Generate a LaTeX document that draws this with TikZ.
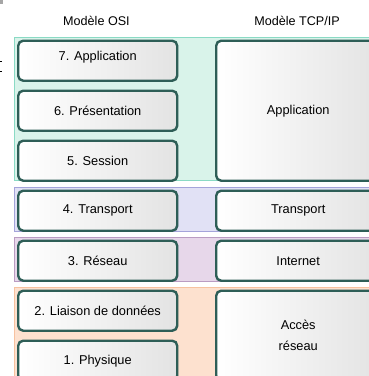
\documentclass[tikz,border=0pt]{standalone}
\usepackage{fontspec}
\setmainfont{Liberation Sans}
\usetikzlibrary{shadows}
\definecolor{boxborder}{HTML}{2E5E57}
\definecolor{bandA}{HTML}{D9F3EA}
\definecolor{bandAb}{HTML}{8ADAC4}
\definecolor{bandT}{HTML}{E1E1F5}
\definecolor{bandTb}{HTML}{A4A4DA}
\definecolor{bandR}{HTML}{E7D7EA}
\definecolor{bandRb}{HTML}{BA9CC2}
\definecolor{bandN}{HTML}{FDE1CF}
\definecolor{bandNb}{HTML}{F7C2A0}
\tikzset{
  layer/.style={draw=boxborder, line width=2.4pt, rounded corners=5pt,
    left color=white, right color=black!11, anchor=north west,
    inner sep=0pt,
    drop shadow={shadow xshift=1pt, shadow yshift=-1pt, opacity=0.35, fill=black!60}},
  band/.style={line width=0.8pt},
  lbl/.style={font=\fontsize{12.8}{15}\selectfont, inner sep=0pt},
  title/.style={font=\fontsize{12.6}{15}\selectfont, inner sep=0pt}
}
\begin{document}
\begin{tikzpicture}[x=1pt, y=-1pt]
\useasboundingbox (0,0) rectangle (369,376);
\clip (0,0) rectangle (369,376);
\fill[white] (0,0) rectangle (369,376);
% stray marks
\fill[black!35] (0,0) rectangle (3,4);
\fill[black] (0,60.5) rectangle (2.5,62);
\fill[black] (0,70.5) rectangle (2.5,72);
% titles
\node[title] (tosi) at (96.5,21) {Modèle OSI};
\node[title] (ttcp) at (297,21) {Modèle TCP/IP};
% bands
\draw[band, draw=bandAb, fill=bandA] (14.5,37) rectangle (380,180.8);
\draw[band, draw=bandTb, fill=bandT] (14.5,187.3) rectangle (380,231.7);
\draw[band, draw=bandRb, fill=bandR] (14.5,237.5) rectangle (380,281.2);
\draw[band, draw=bandNb, fill=bandN] (14.5,287.3) rectangle (380,390);
% OSI layers
\node[layer, minimum width=159pt, minimum height=40pt] (o7) at (17,39.5) {};
\node[lbl] at ([yshift=3.5pt]o7.center) {7. Application};
\node[layer, minimum width=159pt, minimum height=40pt] (o6) at (17,89.5) {};
\node[lbl] at (o6.center) {6. Présentation};
\node[layer, minimum width=159pt, minimum height=40pt] (o5) at (17,139.5) {};
\node[lbl] at (o5.center) {5. Session};
\node[layer, minimum width=159pt, minimum height=40pt] (o4) at (17,189.5) {};
\node[lbl] at (o4.center) {4. Transport};
\node[layer, minimum width=159pt, minimum height=40pt] (o3) at (17,239.5) {};
\node[lbl] at (o3.center) {3. Réseau};
\node[layer, minimum width=159pt, minimum height=40pt] (o2) at (17,289.5) {};
\node[lbl] at (o2.center) {2. Liaison de données};
\node[layer, minimum width=159pt, minimum height=40pt] (o1) at (17,339.5) {};
\node[lbl] at (o1.center) {1. Physique};
% TCP/IP layers
\node[layer, minimum width=164pt, minimum height=140pt] (ta) at (215,39.5) {};
\node[lbl] at (ta.center) {Application};
\node[layer, minimum width=164pt, minimum height=40pt] (tt) at (215,189.5) {};
\node[lbl] at (tt.center) {Transport};
\node[layer, minimum width=164pt, minimum height=40pt] (ti) at (215,239.5) {};
\node[lbl] at (ti.center) {Internet};
\node[layer, minimum width=164pt, minimum height=90pt] (tn) at (215,289.5) {};
\node[lbl, align=center] at ([yshift=0.5pt]tn.center) {Accès\\[5.5pt]réseau};
\end{tikzpicture}
\end{document}
